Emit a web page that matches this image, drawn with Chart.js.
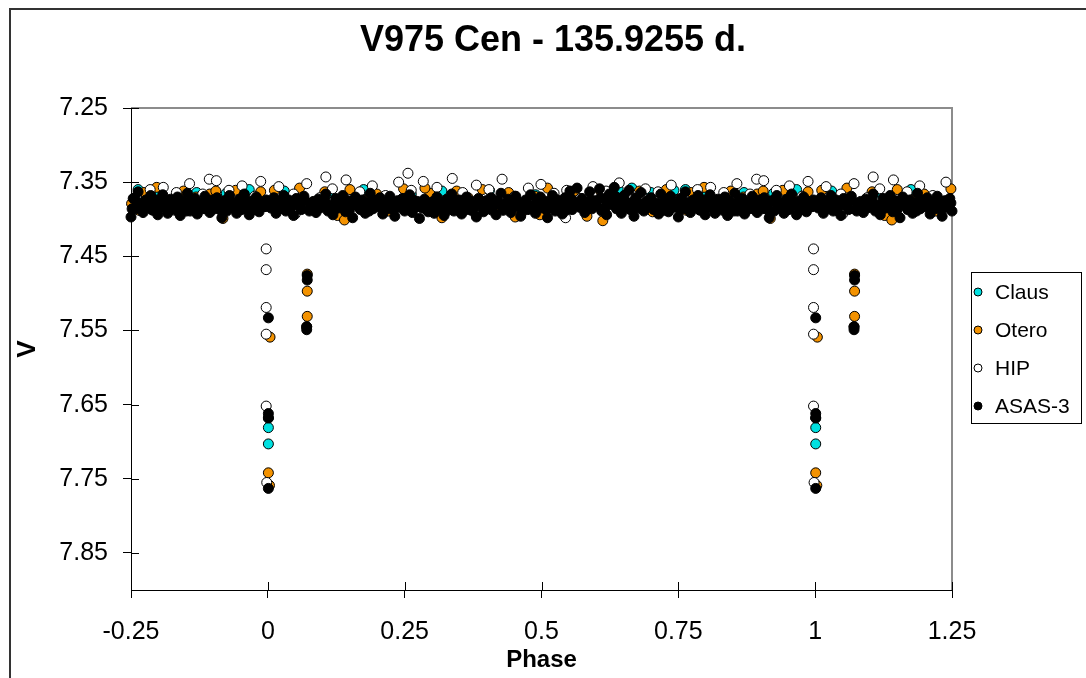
<!DOCTYPE html>
<html>
<head>
<meta charset="utf-8">
<script src="https://cdn.jsdelivr.net/npm/chart.js@4/dist/chart.umd.min.js"></script>
<style>
html,body{margin:0;padding:0;background:#fff;}
#wrap{width:1086px;height:678px;position:relative;}
</style>
</head>
<body>
<div id="wrap"><canvas id="c" width="1086" height="678"></canvas></div>
<script>
// ---- Data (base phases 0..1, folded into -0.25..1.25 for display) ----
const titleText = 'V975 Cen - 135.9255 d.';
const xTicks = [-0.25, 0, 0.25, 0.5, 0.75, 1, 1.25];
const yTicks = [7.25, 7.35, 7.45, 7.55, 7.65, 7.75, 7.85];
const seriesNames = ['Claus', 'Otero', 'HIP', 'ASAS-3'];

const clausPhase = [0.001, 0.001, 0.001, 0.030, 0.110, 0.175, 0.262, 0.318, 0.405, 0.489, 0.552, 0.640, 0.665, 0.700, 0.742, 0.763, 0.803, 0.870, 0.924, 0.966];
const clausMag   = [7.668, 7.681, 7.703, 7.362, 7.365, 7.360, 7.366, 7.362, 7.361, 7.367, 7.363, 7.359, 7.358, 7.364, 7.361, 7.360, 7.366, 7.364, 7.365, 7.360];

const oteroPhase = [0.004, 0.001, 0.003, 0.072, 0.072, 0.072, 0.071,
  0.012, 0.035, 0.058, 0.081, 0.104, 0.127, 0.150, 0.176, 0.199, 0.221, 0.248, 0.270, 0.296, 0.318, 0.345, 0.366, 0.392, 0.417, 0.440, 0.463, 0.488, 0.511, 0.534, 0.559, 0.583, 0.607, 0.631, 0.656, 0.679, 0.703, 0.728, 0.751, 0.774, 0.797, 0.822, 0.846, 0.869, 0.894, 0.918, 0.941, 0.964, 0.987, 0.140, 0.287, 0.452, 0.497, 0.612, 0.765, 0.905];
const oteroMag   = [7.559, 7.742, 7.759, 7.474, 7.497, 7.531, 7.545,
  7.361, 7.372, 7.358, 7.381, 7.363, 7.395, 7.360, 7.374, 7.366, 7.389, 7.359, 7.377, 7.365, 7.398, 7.362, 7.371, 7.360, 7.384, 7.364, 7.392, 7.369, 7.358, 7.378, 7.363, 7.396, 7.361, 7.374, 7.366, 7.362, 7.390, 7.360, 7.379, 7.364, 7.357, 7.385, 7.362, 7.370, 7.366, 7.399, 7.361, 7.375, 7.363, 7.401, 7.358, 7.397, 7.394, 7.402, 7.388, 7.362];

const hipPhase = [0.997, 0.997, 0.997, 0.997, 0.997, 0.998,
  0.020, 0.047, 0.071, 0.095, 0.106, 0.118, 0.143, 0.168, 0.191, 0.215, 0.239, 0.256, 0.262, 0.284, 0.309, 0.337, 0.356, 0.381, 0.404, 0.428, 0.451, 0.476, 0.499, 0.523, 0.546, 0.571, 0.594, 0.618, 0.642, 0.665, 0.690, 0.713, 0.737, 0.760, 0.785, 0.809, 0.833, 0.857, 0.881, 0.893, 0.906, 0.929, 0.953, 0.976, 0.987, 0.050, 0.300, 0.544];
const hipMag   = [7.440, 7.468, 7.519, 7.555, 7.652, 7.755,
  7.356, 7.366, 7.352, 7.371, 7.343, 7.359, 7.347, 7.363, 7.355, 7.368, 7.350, 7.338, 7.361, 7.349, 7.357, 7.345, 7.364, 7.354, 7.360, 7.346, 7.369, 7.358, 7.353, 7.365, 7.361, 7.372, 7.356, 7.362, 7.351, 7.367, 7.359, 7.363, 7.354, 7.370, 7.360, 7.357, 7.364, 7.352, 7.366, 7.346, 7.348, 7.361, 7.355, 7.369, 7.349, 7.393, 7.386, 7.398];

const asasPhase = [0.001, 0.001, 0.001, 0.001, 0.072, 0.072, 0.071, 0.071,
  0.002, 0.006, 0.011, 0.015, 0.019, 0.024, 0.029, 0.033, 0.038, 0.043, 0.047, 0.052, 0.056, 0.061, 0.066, 0.078, 0.083, 0.088, 0.092, 0.097,
  0.101, 0.106, 0.110, 0.115, 0.119, 0.124, 0.128, 0.133, 0.137, 0.142, 0.146, 0.151, 0.155, 0.160, 0.164, 0.169, 0.173, 0.178, 0.183, 0.187, 0.192, 0.196,
  0.201, 0.205, 0.210, 0.214, 0.219, 0.223, 0.228, 0.232, 0.237, 0.241, 0.246, 0.250, 0.255, 0.259, 0.264, 0.268, 0.273, 0.277, 0.282, 0.286, 0.291, 0.295,
  0.300, 0.304, 0.309, 0.313, 0.318, 0.322, 0.327, 0.331, 0.336, 0.340, 0.345, 0.349, 0.354, 0.358, 0.363, 0.367, 0.372, 0.376, 0.381, 0.385, 0.390, 0.394, 0.399,
  0.403, 0.408, 0.412, 0.417, 0.421, 0.426, 0.430, 0.435, 0.439, 0.444, 0.448, 0.453, 0.457, 0.462, 0.466, 0.471, 0.475, 0.480, 0.484, 0.489, 0.493, 0.498,
  0.502, 0.507, 0.511, 0.516, 0.520, 0.525, 0.529, 0.534, 0.538, 0.543, 0.547, 0.552, 0.556, 0.561, 0.565, 0.570, 0.574, 0.579, 0.583, 0.588, 0.592, 0.597,
  0.601, 0.606, 0.610, 0.615, 0.619, 0.624, 0.628, 0.633, 0.637, 0.642, 0.646, 0.651, 0.655, 0.660, 0.664, 0.669, 0.673, 0.678, 0.682, 0.687, 0.691, 0.696,
  0.700, 0.705, 0.709, 0.714, 0.718, 0.723, 0.727, 0.732, 0.736, 0.741, 0.745, 0.750, 0.754, 0.759, 0.763, 0.768, 0.772, 0.777, 0.781, 0.786, 0.790, 0.795, 0.799,
  0.804, 0.808, 0.813, 0.817, 0.822, 0.826, 0.831, 0.835, 0.840, 0.844, 0.849, 0.853, 0.858, 0.862, 0.867, 0.871, 0.876, 0.880, 0.885, 0.889, 0.894, 0.898,
  0.903, 0.907, 0.912, 0.916, 0.921, 0.925, 0.930, 0.934, 0.939, 0.943, 0.948, 0.952, 0.957, 0.961, 0.966, 0.970, 0.975, 0.979, 0.984, 0.988, 0.993, 0.997,
  0.004, 0.013, 0.021, 0.031, 0.040, 0.050, 0.059, 0.068, 0.076, 0.086, 0.095, 0.104, 0.113, 0.122, 0.131, 0.140, 0.149, 0.158, 0.167, 0.176, 0.185, 0.194,
  0.203, 0.212, 0.221, 0.230, 0.239, 0.248, 0.257, 0.266, 0.275, 0.284, 0.293, 0.302, 0.311, 0.320, 0.329, 0.338, 0.347, 0.356, 0.365, 0.374, 0.383, 0.392,
  0.401, 0.410, 0.419, 0.428, 0.437, 0.446, 0.455, 0.464, 0.473, 0.482, 0.491, 0.500, 0.509, 0.518, 0.527, 0.536, 0.545, 0.554, 0.563, 0.572, 0.581, 0.590,
  0.599, 0.608, 0.617, 0.626, 0.635, 0.644, 0.653, 0.662, 0.671, 0.680, 0.689, 0.698, 0.707, 0.716, 0.725, 0.734, 0.743, 0.752, 0.761, 0.770, 0.779, 0.788,
  0.797, 0.806, 0.815, 0.824, 0.833, 0.842, 0.851, 0.860, 0.869, 0.878, 0.887, 0.896, 0.905, 0.914, 0.923, 0.932, 0.941, 0.950, 0.959, 0.968, 0.977, 0.986, 0.995];
const asasMag = [7.533, 7.662, 7.668, 7.763, 7.476, 7.482, 7.545, 7.549,
  7.378, 7.385, 7.371, 7.392, 7.376, 7.381, 7.368, 7.389, 7.374, 7.383, 7.395, 7.372, 7.380, 7.387, 7.369, 7.384, 7.376, 7.391, 7.373, 7.382,
  7.377, 7.366, 7.389, 7.381, 7.394, 7.372, 7.385, 7.379, 7.368, 7.390, 7.375, 7.383, 7.398, 7.370, 7.381, 7.387, 7.374, 7.392, 7.378, 7.365, 7.386, 7.380,
  7.383, 7.371, 7.393, 7.378, 7.386, 7.369, 7.380, 7.396, 7.375, 7.384, 7.372, 7.389, 7.379, 7.367, 7.391, 7.382, 7.376, 7.399, 7.385, 7.373, 7.388, 7.378,
  7.381, 7.392, 7.370, 7.386, 7.377, 7.395, 7.373, 7.383, 7.366, 7.389, 7.379, 7.374, 7.393, 7.381, 7.370, 7.387, 7.376, 7.384, 7.397, 7.372, 7.380, 7.390, 7.375,
  7.386, 7.371, 7.382, 7.394, 7.376, 7.365, 7.388, 7.379, 7.373, 7.391, 7.384, 7.369, 7.377, 7.396, 7.381, 7.374, 7.387, 7.367, 7.383, 7.392, 7.378, 7.370,
  7.385, 7.376, 7.398, 7.381, 7.368, 7.389, 7.374, 7.383, 7.393, 7.371, 7.380, 7.362, 7.387, 7.377, 7.358, 7.384, 7.372, 7.391, 7.379, 7.363, 7.386, 7.375,
  7.382, 7.359, 7.389, 7.373, 7.394, 7.366, 7.380, 7.357, 7.386, 7.375, 7.392, 7.368, 7.383, 7.361, 7.378, 7.396, 7.371, 7.385, 7.364, 7.389, 7.376, 7.382,
  7.371, 7.387, 7.378, 7.393, 7.366, 7.381, 7.375, 7.390, 7.369, 7.384, 7.379, 7.397, 7.372, 7.386, 7.363, 7.380, 7.391, 7.374, 7.383, 7.368, 7.388, 7.377, 7.394,
  7.379, 7.367, 7.385, 7.392, 7.373, 7.381, 7.388, 7.370, 7.395, 7.376, 7.383, 7.365, 7.389, 7.378, 7.372, 7.393, 7.380, 7.386, 7.369, 7.377, 7.391, 7.374,
  7.386, 7.371, 7.382, 7.398, 7.375, 7.389, 7.368, 7.384, 7.379, 7.392, 7.373, 7.387, 7.366, 7.381, 7.394, 7.376, 7.385, 7.370, 7.390, 7.378, 7.383, 7.374,
  7.380, 7.376, 7.386, 7.379, 7.388, 7.377, 7.383, 7.375, 7.389, 7.379, 7.385, 7.374, 7.382, 7.387, 7.373, 7.381, 7.388, 7.377, 7.384, 7.380, 7.389, 7.374,
  7.378, 7.385, 7.376, 7.387, 7.381, 7.378, 7.386, 7.374, 7.383, 7.379, 7.390, 7.376, 7.384, 7.381, 7.388, 7.378, 7.385, 7.375, 7.382, 7.389, 7.377, 7.384,
  7.379, 7.388, 7.376, 7.383, 7.386, 7.375, 7.381, 7.388, 7.378, 7.385, 7.374, 7.382, 7.387, 7.376, 7.383, 7.379, 7.388, 7.372, 7.381, 7.377, 7.385, 7.374,
  7.380, 7.371, 7.384, 7.378, 7.369, 7.382, 7.376, 7.387, 7.373, 7.380, 7.386, 7.377, 7.383, 7.379, 7.388, 7.375, 7.382, 7.386, 7.376, 7.384, 7.379, 7.387,
  7.374, 7.383, 7.378, 7.386, 7.376, 7.382, 7.389, 7.375, 7.384, 7.379, 7.386, 7.377, 7.381, 7.388, 7.375, 7.383, 7.378, 7.385, 7.376, 7.382, 7.387, 7.377, 7.383];

const seriesColors = ['#00E0E0', '#F39200', '#FFFFFF', '#000000'];

// Fold base phases into the displayed window -0.25 .. 1.25 (each cycle repeated)
function fold(phases, mags) {
  const pts = [];
  for (let i = 0; i < phases.length; i++) {
    for (const shift of [-1, 0, 1]) {
      const p = phases[i] + shift;
      if (p >= -0.25 && p <= 1.25) pts.push({x: p, y: mags[i]});
    }
  }
  return pts;
}

const FONT = '"Liberation Sans", Arial, sans-serif';
const phases = [clausPhase, oteroPhase, hipPhase, asasPhase];
const mags = [clausMag, oteroMag, hipMag, asasMag];

const datasets = seriesNames.map((name, i) => ({
  label: name,
  data: fold(phases[i], mags[i]),
  backgroundColor: seriesColors[i],
  borderColor: '#000000',
  borderWidth: 1,
  pointStyle: 'circle',
  pointRadius: 5,
  pointHoverRadius: 5,
  showLine: false,
  clip: false,
  order: 3 - i
}));

const framePlugin = {
  id: 'framePlugin',
  beforeDraw(chart) {
    const ctx = chart.ctx;
    ctx.save();
    ctx.fillStyle = '#ffffff';
    ctx.fillRect(0, 0, chart.width, chart.height);
    ctx.restore();
  },
  beforeDatasetsDraw(chart) {
    const {ctx, chartArea: a, scales} = chart;
    ctx.save();
    // plot area top/right border (gray)
    ctx.strokeStyle = '#8c8c8c';
    ctx.lineWidth = 2;
    ctx.beginPath();
    ctx.moveTo(a.left, a.top);
    ctx.lineTo(a.right, a.top);
    ctx.lineTo(a.right, a.bottom);
    ctx.stroke();
    // inner tick halves
    ctx.strokeStyle = '#000';
    ctx.lineWidth = 1;
    ctx.beginPath();
    scales.y.ticks.forEach(t => {
      const py = Math.round(scales.y.getPixelForValue(t.value)) + 0.5;
      ctx.moveTo(a.left, py); ctx.lineTo(a.left + 8, py);
    });
    scales.x.ticks.forEach(t => {
      const px = Math.round(scales.x.getPixelForValue(t.value)) + 0.5;
      ctx.moveTo(px, a.bottom); ctx.lineTo(px, a.bottom - 8);
    });
    ctx.stroke();
    ctx.restore();
  },
  afterDraw(chart) {
    const ctx = chart.ctx;
    ctx.save();
    // outer chart frame (extends beyond the picture at right/bottom)
    ctx.strokeStyle = '#333';
    ctx.lineWidth = 2;
    ctx.beginPath();
    ctx.moveTo(10, chart.height + 5);
    ctx.lineTo(10, 9);
    ctx.lineTo(chart.width + 5, 9);
    ctx.stroke();
    // legend box
    const lx = 971.5, ly = 272.5, lw = 110, lh = 151;
    ctx.fillStyle = '#fff';
    ctx.fillRect(lx, ly, lw, lh);
    ctx.strokeStyle = '#000';
    ctx.lineWidth = 1;
    ctx.strokeRect(lx, ly, lw, lh);
    ctx.font = '21px ' + FONT;
    ctx.textBaseline = 'middle';
    ctx.textAlign = 'left';
    chart.data.datasets.forEach((ds, i) => {
      const y = 292 + i * 38;
      ctx.beginPath();
      ctx.arc(978, y, 4, 0, Math.PI * 2);
      ctx.fillStyle = ds.backgroundColor;
      ctx.fill();
      ctx.strokeStyle = '#000';
      ctx.stroke();
      ctx.fillStyle = '#000';
      ctx.fillText(ds.label, 995, y + 1);
    });
    ctx.restore();
  }
};

new Chart(document.getElementById('c'), {
  type: 'scatter',
  data: {datasets},
  options: {
    responsive: false,
    animation: false,
    devicePixelRatio: 1,
    layout: {padding: {left: 20, right: 0, top: 0, bottom: 0}},
    plugins: {
      legend: {display: false},
      tooltip: {enabled: false},
      title: {
        display: true,
        text: titleText,
        color: '#000',
        font: {family: FONT, size: 36, weight: 'bold', lineHeight: 1.2},
        padding: {top: 19, bottom: 45.8}
      }
    },
    scales: {
      x: {
        type: 'linear',
        position: 'bottom',
        min: -0.25,
        max: 1.25,
        afterBuildTicks: s => { s.ticks = xTicks.map(v => ({value: v})); },
        afterFit: s => { s.height = 88; },
        ticks: {
          color: '#000',
          font: {family: FONT, size: 25, lineHeight: 1.2},
          padding: 19,
          maxRotation: 0,
          callback: v => String(v)
        },
        grid: {drawOnChartArea: false, drawTicks: true, tickLength: 8, color: '#000', lineWidth: 1},
        border: {display: true, color: '#000', width: 1},
        title: {display: true, text: 'Phase', color: '#000',
          font: {family: FONT, size: 24, weight: 'bold', lineHeight: 1.2},
          padding: {top: 0, bottom: 3}}
      },
      y: {
        type: 'linear',
        position: 'left',
        reverse: true,
        min: 7.25,
        max: 7.9,
        afterBuildTicks: s => { s.ticks = yTicks.map(v => ({value: v})); },
        afterFit: s => { s.width = 111; },
        ticks: {
          color: '#000',
          font: {family: FONT, size: 25, lineHeight: 1.2},
          padding: 15,
          callback: v => Number(v).toFixed(2)
        },
        grid: {drawOnChartArea: false, drawTicks: true, tickLength: 8, color: '#000', lineWidth: 1},
        border: {display: true, color: '#000', width: 1},
        title: {display: true, text: 'V', color: '#000',
          font: {family: FONT, size: 26, weight: 'bold', lineHeight: 0.6},
          padding: {top: 0.2, bottom: 0}}
      },
      legendSpace: {
        type: 'linear',
        position: 'right',
        display: true,
        afterFit: s => { s.width = 134; },
        ticks: {display: false},
        grid: {display: false},
        border: {display: false},
        title: {display: false}
      }
    }
  },
  plugins: [framePlugin]
});
</script>
</body>
</html>
